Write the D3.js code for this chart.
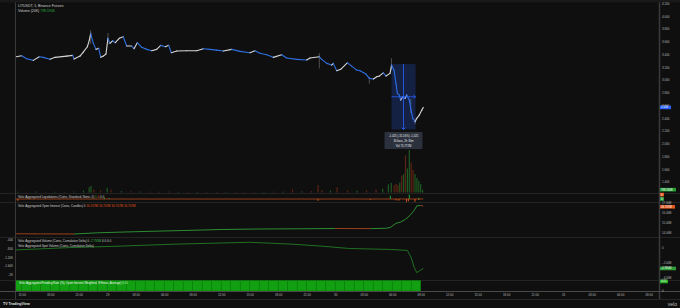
<!DOCTYPE html>
<html>
<head>
<meta charset="utf-8">
<script src="https://cdn.jsdelivr.net/npm/d3@7"></script>
<style>
  body { margin: 0; background: #0f0f0f; }
  svg text { font-family: "Liberation Sans", Arial, sans-serif; }
</style>
</head>
<body>
<svg width="680" height="308"></svg>
<script>
// hours since 28th 15:00, 5m LITUSDT closes
var priceHours = [-0.60,0,0.53,1.22,1.85,2.27,2.98,3.51,4.74,5.37,5.51,6.14,6.48,6.91,7.12,7.26,7.54,7.82,8.11,8.32,8.59,8.87,9.08,9.29,9.58,9.85,10.27,10.69,11.05,11.58,11.82,12.17,12.63,13.16,13.68,14.21,14.63,15.12,15.47,15.75,16.32,17.37,18.42,19.12,19.82,20.53,21.22,22.11,22.98,24.03,24.56,25.08,25.79,26.48,27.37,27.89,28.95,30.00,30.35,31.33,31.58,32.11,32.63,32.80,33.16,33.58,34.27,34.74,35.26,35.61,36.24,36.59,37.01,37.37,37.64,38.06,38.35,38.77,38.93,39.19,39.40,39.54,39.75,39.89,40.11,40.35,40.53,40.80,40.95,41.16,41.40,41.58,41.85,42.11,42.27];
var priceClose = [3.362,3.378,3.331,3.306,3.362,3.353,3.322,3.353,3.373,3.384,3.326,3.373,3.436,3.519,3.624,3.729,3.573,3.478,3.494,3.353,3.373,3.405,3.651,3.573,3.613,3.582,3.651,3.676,3.530,3.530,3.488,3.582,3.510,3.478,3.456,3.478,3.541,3.519,3.541,3.425,3.452,3.456,3.456,3.488,3.478,3.467,3.452,3.478,3.447,3.425,3.456,3.416,3.394,3.353,3.394,3.342,3.322,3.311,3.342,3.362,3.322,3.259,3.232,3.259,3.143,3.165,3.268,3.216,3.154,3.143,3.091,3.024,3.013,3.049,3.060,3.111,3.060,3.102,3.232,3.154,2.945,2.788,2.762,2.683,2.735,2.710,2.762,2.683,2.553,2.396,2.343,2.396,2.448,2.526,2.569];

var wickHours = [7.26,9.08,31.33,36.59,38.93,40.95,41.40];
var wickHigh = [3.780,3.734,3.416,3.050,3.340,2.700,2.400];
var wickLow = [3.560,3.560,3.180,2.940,3.150,2.480,2.306];

// volume in K
var volHours = [-0.4,0.5,1.5,2.5,3.5,4.5,5.5,6.5,7.1,7.3,7.6,8.3,9.0,9.4,10.5,11.5,12.5,13.5,14.5,15.5,16.5,17.5,18.5,19.5,20.5,21.5,22.5,23.5,24.5,25.5,26.5,27.5,28.5,29.5,30.5,31.2,31.6,32.5,33.2,34.3,35.3,36.3,37.3,38.0,38.6,38.9,39.2,39.4,39.6,39.8,40.0,40.2,40.4,40.6,40.8,41.0,41.2,41.4,41.6,41.8,42.0,42.2];
var volValues = [220,180,260,150,200,170,240,500,1500,1900,800,600,1300,800,400,350,300,260,240,280,220,200,180,210,190,170,200,180,220,210,260,240,900,320,380,2100,700,560,1500,600,520,650,800,1100,2300,2700,2000,2400,2100,2800,4800,5200,10500,6800,12000,8500,6400,5200,4100,3300,2400,800];
var volUp = [1,0,1,0,1,0,1,1,1,1,0,0,1,0,1,0,1,0,0,0,1,0,1,0,0,1,0,0,0,1,0,1,0,1,0,0,0,1,0,0,1,0,0,1,1,1,0,0,0,1,0,1,0,1,1,0,0,1,1,1,1,1];

// liquidations in K
var liqHours = [-0.4,8.7,9.2,31.2,36.7,38.8,39.4,39.7,40.5,40.7,40.8,41.4,41.8];
var liqLongs = [25,0,0,25,12,0,18,22,38,30,0,36,10];
var liqShorts = [0,18,12,0,0,45,0,0,0,0,60,0,15];

// open interest in M
var oiHours = [-0.6,2,5.5,8,12,17,21,25,29,33,36.7,38.3,38.8,39.4,39.9,40.4,40.7,41.2,41.4,41.6,42.0,42.27];
var oiValues = [13.92,13.91,13.90,14.02,14.13,14.25,14.35,14.40,14.42,14.45,14.44,14.47,14.55,14.97,15.10,15.37,15.60,16.13,16.40,16.72,16.75,16.707];

// cumulative volume delta in M
var cvdHours = [-0.6,5,10.4,16,20,24,28.5,31.5,34.5,38.8,40.6,41.0,41.3,41.6,41.85,42.27];
var cvdValues = [-0.26,0.05,0.26,0.52,0.65,0.78,0.52,0.26,-0.07,-0.20,-0.33,-1.30,-2.60,-3.38,-3.12,-2.795];

// funding rate, one bar per hour
var fundingHours = [-1,0,1,2,3,4,5,6,7,8,9,10,11,12,13,14,15,16,17,18,19,20,21,22,23,24,25,26,27,28,29,30,31,32,33,34,35,36,37,38,39,40,41];
var fundingRates = [0.01,0.01,0.01,0.01,0.01,0.01,0.01,0.01,0.01,0.01,0.01,0.01,0.01,0.01,0.01,0.01,0.01,0.01,0.01,0.01,0.01,0.01,0.01,0.01,0.01,0.01,0.01,0.01,0.01,0.01,0.01,0.01,0.01,0.01,0.01,0.01,0.01,0.01,0.01,0.01,0.01,0.01,0.01];

var timeTickHours = [0,3,6,9,12,15,18,21,24,27,30,33,36,39,42,45,48,51,54,57,60,63,66];
var timeTickLabels = ["15:00","18:00","21:00","29","03:00","06:00","09:00","12:00","15:00","18:00","21:00","30","03:00","06:00","09:00","12:00","15:00","18:00","21:00","31","03:00","06:00","09:00"];
var priceTicks = [4.2,4.0,3.8,3.6,3.4,3.2,3.0,2.8,2.6,2.4,2.2,2.0,1.8,1.6,1.4];
var oiTicks = [17,16,15,14];
var cvdTicks = [0,-2,-4];
var spotTicks = [-400,-800,-1200,-1600,-2000];
var spotTickLabels = ["-400","-800","-1.20K","-1.60K","-2K"];

var svg = d3.select("svg"),
    width = +svg.attr("width"),
    height = +svg.attr("height"),
    left = 16, right = 659;

var green = "#27a33a", orange = "#e0561b", blue = "#2f6fe0", upCol = "#d6d6d6";

var x = d3.scaleLinear().domain([0, 66]).range([21.7, 648.7]),
    y = d3.scaleLinear().domain([1.4, 4.2]).range([182, 3.3]),
    yVol = d3.scaleLinear().domain([0, 12000]).range([192.5, 150]),
    yLiq = d3.scaleLinear().domain([-40, 80]).range([202, 193]),
    yOi = d3.scaleLinear().domain([14, 17]).range([233, 203]),
    yCvd = d3.scaleLinear().domain([0, -4]).range([248, 277.3]),
    ySpot = d3.scaleLinear().domain([0, -2000]).range([231.3, 274.6]),
    yFund = d3.scaleLinear().domain([0, 0.01]).range([291, 280.5]);

svg.append("rect").attr("width", width).attr("height", height).attr("fill", "#0f0f0f");
svg.append("rect").attr("width", width).attr("height", 2.5).attr("fill", "#191919");

svg.append("clipPath").attr("id", "plot")
  .append("rect").attr("x", left).attr("y", 3).attr("width", right - left).attr("height", 288);

// pane separators
[193, 202, 237, 280].forEach(function(v) {
  svg.append("line").attr("x1", 0).attr("x2", width).attr("y1", v + 0.5).attr("y2", v + 0.5)
    .attr("stroke", "#232323").attr("stroke-width", 1);
});

var g = svg.append("g").attr("clip-path", "url(#plot)");

// volume
g.selectAll(".vol")
  .data(volHours)
  .enter().append("rect")
    .attr("x", function(d) { return x(d) - 0.6; })
    .attr("y", function(d, i) { return yVol(volValues[i]); })
    .attr("width", 1.2)
    .attr("height", function(d, i) { return yVol(0) - yVol(volValues[i]); })
    .attr("fill", function(d, i) { return volUp[i] ? "#1f5a22" : "#5c2414"; });

// wicks
g.selectAll(".wick")
  .data(wickHours)
  .enter().append("line")
    .attr("x1", function(d) { return x(d); })
    .attr("x2", function(d) { return x(d); })
    .attr("y1", function(d, i) { return y(wickHigh[i]); })
    .attr("y2", function(d, i) { return y(wickLow[i]); })
    .attr("stroke", "#7a7a7a").attr("stroke-width", 0.6);

// price, coloured by direction
var pricePts = priceHours.map(function(h, i) { return [h, priceClose[i]]; });
g.selectAll(".seg")
  .data(d3.pairs(pricePts))
  .enter().append("line")
    .attr("x1", function(d) { return x(d[0][0]); })
    .attr("y1", function(d) { return y(d[0][1]); })
    .attr("x2", function(d) { return x(d[1][0]); })
    .attr("y2", function(d) { return y(d[1][1]); })
    .attr("stroke", function(d) { return d[1][1] >= d[0][1] ? upCol : blue; })
    .attr("stroke-width", 1.1)
    .attr("stroke-linecap", "round");

// measure tool
var mx0 = 38.93, mx1 = 41.46, mp0 = 3.248, mp1 = 2.223, mMid = 40.19;
var mpMid = (mp0 + mp1) / 2;
svg.append("rect")
  .attr("x", x(mx0)).attr("y", y(mp0))
  .attr("width", x(mx1) - x(mx0)).attr("height", y(mp1) - y(mp0))
  .attr("fill", "rgba(41,98,255,0.22)");
svg.append("line").attr("x1", x(mMid)).attr("x2", x(mMid)).attr("y1", y(mp0)).attr("y2", y(mp1))
  .attr("stroke", "#2962ff").attr("stroke-width", 0.8);
svg.append("line").attr("x1", x(mx0)).attr("x2", x(mx1)).attr("y1", y(mpMid)).attr("y2", y(mpMid))
  .attr("stroke", "#2962ff").attr("stroke-width", 0.8);
svg.append("path")
  .attr("d", "M" + (x(mMid) - 2) + "," + (y(mp1) - 2) + "L" + x(mMid) + "," + y(mp1) + "L" + (x(mMid) + 2) + "," + (y(mp1) - 2))
  .attr("fill", "none").attr("stroke", "#2962ff").attr("stroke-width", 0.8);
svg.append("path")
  .attr("d", "M" + (x(mx1) - 2) + "," + (y(mpMid) - 2) + "L" + x(mx1) + "," + y(mpMid) + "L" + (x(mx1) - 2) + "," + (y(mpMid) + 2))
  .attr("fill", "none").attr("stroke", "#2962ff").attr("stroke-width", 0.8);

var tip = svg.append("g").attr("transform", "translate(" + x(mMid) + "," + (y(mp1) + 2.5) + ")");
tip.append("rect").attr("x", -19).attr("y", 0).attr("width", 38).attr("height", 17)
  .attr("rx", 1).attr("fill", "#2b313d");
["-1.025 (-31.56%) -1,025", "30 bars, 2h 30m", "Vol 75.772M"].forEach(function(t, i) {
  tip.append("text").attr("x", 0).attr("y", 4.6 + i * 5).attr("text-anchor", "middle")
    .attr("font-size", 2.8).attr("fill", "#e8e8e8").text(t);
});

// liquidations
var liqEnd = priceHours[priceHours.length - 1];
g.append("line").attr("x1", x(priceHours[0])).attr("x2", x(liqEnd))
  .attr("y1", yLiq(0)).attr("y2", yLiq(0)).attr("stroke", "#b5491c").attr("stroke-width", 0.8);
g.selectAll(".liqL")
  .data(liqHours)
  .enter().append("rect")
    .attr("x", function(d) { return x(d) - 0.5; })
    .attr("y", yLiq(0))
    .attr("width", 1)
    .attr("height", function(d, i) { return yLiq(-liqLongs[i]) - yLiq(0); })
    .attr("fill", orange);
g.selectAll(".liqS")
  .data(liqHours)
  .enter().append("rect")
    .attr("x", function(d) { return x(d) - 0.5; })
    .attr("y", function(d, i) { return yLiq(liqShorts[i]); })
    .attr("width", 1)
    .attr("height", function(d, i) { return yLiq(0) - yLiq(liqShorts[i]); })
    .attr("fill", green);

// open interest
var oiPts = oiHours.map(function(h, i) { return [h, oiValues[i]]; });
g.selectAll(".oi")
  .data(d3.pairs(oiPts))
  .enter().append("line")
    .attr("x1", function(d) { return x(d[0][0]); })
    .attr("y1", function(d) { return yOi(d[0][1]); })
    .attr("x2", function(d) { return x(d[1][0]); })
    .attr("y2", function(d) { return yOi(d[1][1]); })
    .attr("stroke", function(d) { return d[1][1] >= d[0][1] ? "#2f9a35" : "#a8461c"; })
    .attr("stroke-width", 0.9);

// cumulative volume delta
g.append("path")
  .datum(cvdHours.map(function(h, i) { return [h, cvdValues[i]]; }))
  .attr("fill", "none")
  .attr("stroke", "#237a26")
  .attr("stroke-width", 0.9)
  .attr("d", d3.line().x(function(d) { return x(d[0]); }).y(function(d) { return yCvd(d[1]); }));

// funding
g.selectAll(".fund")
  .data(fundingHours)
  .enter().append("rect")
    .attr("x", function(d) { return x(d); })
    .attr("y", function(d, i) { return yFund(fundingRates[i]); })
    .attr("width", function(d) { return x(Math.min(d + 1, liqEnd)) - x(d); })
    .attr("height", function(d, i) { return yFund(0) - yFund(fundingRates[i]); })
    .attr("fill", "#12a012")
    .attr("stroke", "#0b820b")
    .attr("stroke-width", 0.5);

// frame lines
svg.append("line").attr("x1", left - 0.5).attr("x2", left - 0.5).attr("y1", 2.5).attr("y2", 299)
  .attr("stroke", "#3a3a3a");
svg.append("line").attr("x1", right + 0.5).attr("x2", right + 0.5).attr("y1", 2.5).attr("y2", 299)
  .attr("stroke", "#3a3a3a").attr("stroke-width", 1.5);
svg.append("line").attr("x1", 0).attr("x2", width).attr("y1", 291.5).attr("y2", 291.5).attr("stroke", "#4a4a4a");
svg.append("line").attr("x1", 0).attr("x2", width).attr("y1", 299.5).attr("y2", 299.5).attr("stroke", "#262626");

// axes
function styleAxis(sel, size) {
  sel.select(".domain").remove();
  sel.selectAll("line").remove();
  sel.selectAll("text").attr("fill", "#b8b8b8").attr("font-size", size).attr("font-family", "Liberation Sans, Arial, sans-serif");
}

svg.append("g")
    .attr("transform", "translate(0,292)")
    .call(d3.axisBottom(x).tickValues(timeTickHours).tickSize(0).tickPadding(1.5)
      .tickFormat(function(d, i) { return timeTickLabels[i]; }))
    .call(styleAxis, 3);

svg.append("g")
    .attr("transform", "translate(" + (right + 2) + ",0)")
    .call(d3.axisRight(y).tickValues(priceTicks).tickSize(0).tickPadding(1).tickFormat(d3.format(".3f")))
    .call(styleAxis, 3);

svg.append("g")
    .attr("transform", "translate(" + (right + 2) + ",0)")
    .call(d3.axisRight(yOi).tickValues(oiTicks).tickSize(0).tickPadding(1).tickFormat(function(d) { return d3.format(".2f")(d) + "M"; }))
    .call(styleAxis, 2.8);

svg.append("g")
    .attr("transform", "translate(" + (right + 2) + ",0)")
    .call(d3.axisRight(yCvd).tickValues(cvdTicks).tickSize(0).tickPadding(1).tickFormat(function(d) { return d === 0 ? "0" : d3.format(".2f")(d) + "M"; }))
    .call(styleAxis, 2.8);

svg.append("g")
    .attr("transform", "translate(" + (right + 2) + ",0)")
    .call(d3.axisRight(yFund).tickValues([0]).tickSize(0).tickPadding(1).tickFormat(function() { return "0"; }))
    .call(styleAxis, 3);

svg.append("g")
    .attr("transform", "translate(" + (left - 2) + ",0)")
    .call(d3.axisLeft(ySpot).tickValues(spotTicks).tickSize(0).tickPadding(1)
      .tickFormat(function(d, i) { return spotTickLabels[i]; }))
    .call(styleAxis, 3);

// last-value tags on the right axis
function tag(yPos, text, fill, w) {
  svg.append("rect").attr("x", right + 1).attr("y", yPos - 1.8).attr("width", w).attr("height", 3.6).attr("fill", fill);
  svg.append("text").attr("x", right + 2).attr("y", yPos).attr("dy", "0.35em")
    .attr("font-size", 2.8).attr("fill", "#ffffff").text(text);
}
var lastPrice = priceClose[priceClose.length - 1];
tag(y(lastPrice), d3.format(".3f")(lastPrice), "#2962ff", 11);
tag(yVol(volValues[volValues.length - 1]), "798.594K", "#22a033", 16);
tag(yLiq(0) - 4.4, "0", orange, 4);
tag(yLiq(0), "0", green, 4);
tag(yOi(oiValues[oiValues.length - 1]) + 0.9, "16.707M", orange, 15);
tag(yCvd(cvdValues[cvdValues.length - 1]), "-2.795M", "#2f9e3a", 16);
tag(yFund(fundingRates[fundingRates.length - 1]) + 1, "0.01", "#22b022", 8);

// legends
function legend(xPos, yPos, size, parts) {
  var t = svg.append("text").attr("x", xPos).attr("y", yPos).attr("font-size", size);
  parts.forEach(function(p) {
    t.append("tspan").attr("fill", p[1] || "#d0d0d0").text(p[0]);
  });
}
legend(18, 7, 3.5, [["LITUSDT, 5, Binance Futures"]]);
legend(18, 12, 3.5, [["Volume (20K)  "], ["798.594K", green]]);
legend(18, 198, 3, [["Velo: Aggregated Liquidations (Coins, Standard, None, 0) "], ["0 ", green], ["0 ", orange], ["0 0"]]);
legend(18, 207.3, 3, [["Velo: Aggregated Open Interest (Coins, Candles) 0 "], ["16.707M 16.707M 16.707M 16.707M", orange]]);
legend(18, 241.5, 3, [["Velo: Aggregated Volume (Coins, Cumulative Delta) 0 "], ["-2.795M ", "#3bbf4a"], ["0 0 0 0"]]);
legend(18, 246.5, 3, [["Velo: Aggregated Spot Volume (Coins, Cumulative Delta)"]]);
legend(19, 283.6, 2.9, [["Velo: Aggregated Funding Rate (%), Open Interest Weighted, 8 Hours, Average) ", "#f0f0f0"], ["0.01", "#b6f0b6"]]);

// footer
svg.append("text").attr("x", 3).attr("y", 305).attr("font-size", 3.6).attr("font-weight", "bold")
  .attr("fill", "#e0e0e0").text("TV TradingView");
svg.append("text").attr("x", 677).attr("y", 306).attr("text-anchor", "end").attr("font-size", 5)
  .attr("fill", "#bdbdbd").text("velo");
</script>
</body>
</html>
